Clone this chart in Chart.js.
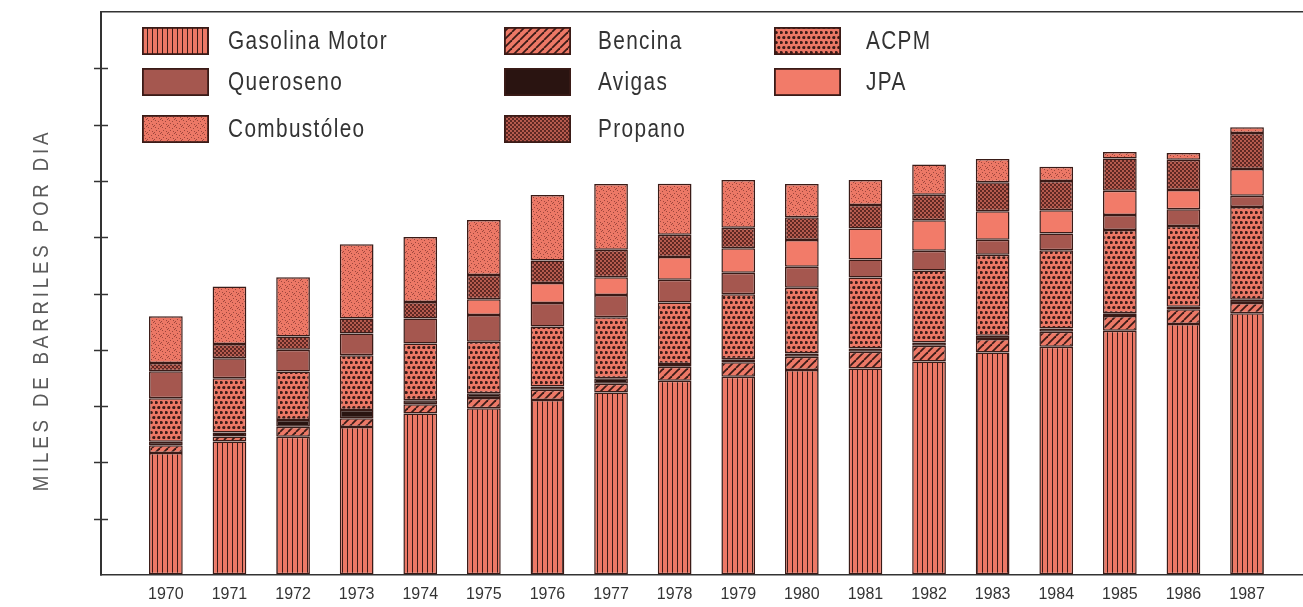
<!DOCTYPE html>
<html>
<head>
  <title>Consumo de derivados 1970-1987</title>
  <script src="https://cdn.jsdelivr.net/npm/chart.js"></script>
  <style>
    body { margin: 0; background: #fff; }
    canvas { display: block; }
  </style>
</head>
<body>
<canvas id="chart" width="1303" height="607"></canvas>

<script>
  // years on the x axis
  const years = [1970, 1971, 1972, 1973, 1974, 1975, 1976, 1977, 1978,
                 1979, 1980, 1981, 1982, 1983, 1984, 1985, 1986, 1987];

  // series, bottom of the stack first (miles de barriles por dia)
  const gasolinaMotor = [43.3, 47.4, 49.1, 52.6, 57.4, 59.2, 62.2, 64.8, 69.0, 70.4, 72.8, 73.4, 75.8, 79.0, 81.1, 86.8, 89.2, 93.0];
  const bencina       = [2.8, 1.8, 3.6, 3.1, 3.3, 3.7, 3.6, 3.1, 5.0, 5.2, 4.7, 5.9, 5.6, 4.8, 5.3, 5.2, 5.2, 3.6];
  const avigas        = [1.2, 1.4, 2.4, 2.9, 1.4, 1.7, 1.2, 2.0, 1.0, 1.0, 1.2, 1.2, 1.2, 1.2, 1.2, 1.0, 0.9, 1.2];
  const acpm          = [15.5, 19.3, 17.2, 19.5, 20.1, 18.3, 21.3, 21.7, 21.8, 23.1, 23.3, 25.2, 25.6, 28.8, 27.8, 29.6, 28.7, 32.9];
  const queroseno     = [9.6, 7.1, 7.7, 7.7, 8.9, 9.5, 8.3, 7.9, 8.1, 7.7, 7.5, 6.4, 7.0, 5.3, 5.9, 5.3, 5.9, 4.0];
  const jpa           = [0, 0, 0, 0, 0, 5.6, 7.1, 6.3, 8.1, 8.7, 9.5, 11.0, 10.8, 10.1, 8.3, 8.6, 6.9, 9.5];
  const propano       = [2.9, 5.1, 4.7, 5.3, 5.9, 8.6, 8.0, 9.7, 7.9, 7.3, 8.1, 8.3, 9.1, 10.3, 10.4, 11.5, 10.7, 12.8];
  const combustoleo   = [16.6, 20.4, 21.1, 26.4, 23.1, 19.5, 23.3, 23.4, 18.1, 16.9, 11.8, 8.9, 10.7, 8.3, 5.0, 2.3, 2.4, 2.1];

  // y axis: unlabeled ticks
  const yMax = 200;
  const yStep = 20;

  const FONT = "'Liberation Sans', Arial, sans-serif";
  const SALMON = '#ec7866';
  const DARK = '#3a1b17';

  function makePattern(w, h, draw) {
    const c = document.createElement('canvas');
    c.width = w;
    c.height = h;
    const g = c.getContext('2d');
    draw(g, w, h);
    return g.createPattern(c, 'repeat');
  }

  const dots = (g, pts, r, color) => {
    g.fillStyle = color;
    pts.forEach(([x, y]) => { g.beginPath(); g.arc(x, y, r, 0, Math.PI * 2); g.fill(); });
  };

  const fills = {
    gasolina: makePattern(5, 4, (g, w, h) => {
      g.fillStyle = SALMON; g.fillRect(0, 0, w, h);
      g.fillStyle = DARK; g.fillRect(2, 0, 1, h);
    }),
    bencina: makePattern(8, 8, (g, w, h) => {
      g.fillStyle = SALMON; g.fillRect(0, 0, w, h);
      g.strokeStyle = DARK; g.lineWidth = 1.8;
      [-8, 0, 8].forEach(ox => {
        g.beginPath(); g.moveTo(ox, h); g.lineTo(ox + w, 0); g.stroke();
      });
    }),
    avigas: '#2a1411',
    acpm: makePattern(5, 10, (g, w, h) => {
      g.fillStyle = SALMON; g.fillRect(0, 0, w, h);
      dots(g, [[1.25, 2.5], [3.75, 7.5], [6.25, 7.5], [-1.25, 7.5]], 1.6, DARK);
    }),
    queroseno: '#a5574f',
    jpa: '#f27b69',
    propano: makePattern(4, 4, (g, w, h) => {
      g.fillStyle = '#5e2823'; g.fillRect(0, 0, w, h);
      dots(g, [[1, 1], [3, 3]], 0.9, '#e07464');
    }),
    combustoleo: makePattern(7, 7, (g, w, h) => {
      g.fillStyle = SALMON; g.fillRect(0, 0, w, h);
      g.fillStyle = '#9c463c';
      [[1, 1], [4, 2], [2, 4], [5, 5], [6, 0], [0, 6]].forEach(([x, y]) => g.fillRect(x, y, 1, 1));
    })
  };

  const series = [
    { label: 'Gasolina Motor', data: gasolinaMotor, fill: fills.gasolina },
    { label: 'Bencina', data: bencina, fill: fills.bencina },
    { label: 'Avigas', data: avigas, fill: fills.avigas },
    { label: 'ACPM', data: acpm, fill: fills.acpm },
    { label: 'Queroseno', data: queroseno, fill: fills.queroseno },
    { label: 'JPA', data: jpa, fill: fills.jpa },
    { label: 'Propano', data: propano, fill: fills.propano },
    { label: 'Combustóleo', data: combustoleo, fill: fills.combustoleo }
  ];

  // legend drawn as a 3-column block, dataset indices per column
  const legendColumns = [[0, 4, 7], [1, 2, 6], [3, 5]];

  // condensed look: plain font squeezed horizontally
  function narrowText(ctx, text, x, y, squeeze) {
    ctx.save();
    ctx.translate(x, y);
    ctx.scale(squeeze, 1);
    ctx.fillText(text, 0, 0);
    ctx.restore();
  }

  const decorations = {
    id: 'decorations',
    afterDraw(chart) {
      const { ctx, chartArea: a } = chart;
      const y = chart.scales.y;
      ctx.save();

      // tick marks crossing the y axis
      ctx.strokeStyle = '#333';
      ctx.lineWidth = 1.5;
      y.ticks.forEach(t => {
        if (t.value <= y.min || t.value >= y.max) return;
        const py = Math.round(y.getPixelForValue(t.value)) + 0.5;
        ctx.beginPath();
        ctx.moveTo(a.left - 7, py);
        ctx.lineTo(a.left + 7, py);
        ctx.stroke();
      });

      // legend
      const boxX = [142, 504, 774];
      const textX = [228, 598, 866];
      const rowY = [27, 68, 115];
      ctx.font = '26px ' + FONT;
      ctx.letterSpacing = '1.7px';
      ctx.textBaseline = 'middle';
      ctx.textAlign = 'left';
      legendColumns.forEach((col, ci) => {
        col.forEach((di, ri) => {
          const ds = chart.data.datasets[di];
          const bx = boxX[ci], by = rowY[ri];
          ctx.fillStyle = ds.backgroundColor;
          ctx.fillRect(bx, by, 67, 28);
          ctx.strokeStyle = DARK;
          ctx.lineWidth = 1.8;
          ctx.strokeRect(bx + 0.9, by + 0.9, 65.2, 26.2);
          ctx.fillStyle = '#333';
          narrowText(ctx, ds.label, textX[ci], by + 15, 0.8);
        });
      });

      // y axis title
      ctx.translate(42, 310);
      ctx.rotate(-Math.PI / 2);
      ctx.font = '22px ' + FONT;
      ctx.letterSpacing = '4.5px';
      ctx.fillStyle = '#5a5a5a';
      ctx.textAlign = 'center';
      narrowText(ctx, 'MILES DE BARRILES POR DIA', 0, 0, 0.85);
      ctx.restore();
    }
  };

  Chart.defaults.font.family = FONT;

  new Chart(document.getElementById('chart'), {
    type: 'bar',
    data: {
      datasets: series.map(s => ({
        label: s.label,
        data: years.map((yr, i) => ({ x: yr, y: s.data[i] })),
        backgroundColor: s.fill,
        borderColor: DARK,
        borderWidth: 1.5,
        borderSkipped: false,
        categoryPercentage: 1,
        barPercentage: 0.53
      }))
    },
    options: {
      responsive: false,
      animation: false,
      layout: { padding: { left: 101, right: 0, top: 12, bottom: 0 } },
      plugins: {
        legend: { display: false },
        tooltip: { enabled: false }
      },
      scales: {
        x: {
          type: 'linear',
          stacked: true,
          offset: false,
          min: 1968.98,
          max: 1987.88,
          afterBuildTicks: s => { s.ticks = years.map(v => ({ value: v })); },
          afterFit: s => { s.height = 32; },
          ticks: {
            padding: 10,
            color: '#333',
            maxRotation: 0,
            font: { size: 16 },
            callback: v => String(v)
          },
          grid: { display: false, drawTicks: false },
          border: { display: true, color: '#333', width: 1.5 }
        },
        y: {
          stacked: true,
          min: 0,
          max: yMax,
          afterFit: s => { s.width = 0; },
          ticks: { display: false, stepSize: yStep },
          grid: {
            drawTicks: false,
            lineWidth: 1.5,
            color: c => (c.tick && c.tick.value === yMax ? '#333' : 'rgba(0,0,0,0)')
          },
          border: { display: true, color: '#333', width: 2 }
        }
      }
    },
    plugins: [decorations]
  });
</script>
</body>
</html>
